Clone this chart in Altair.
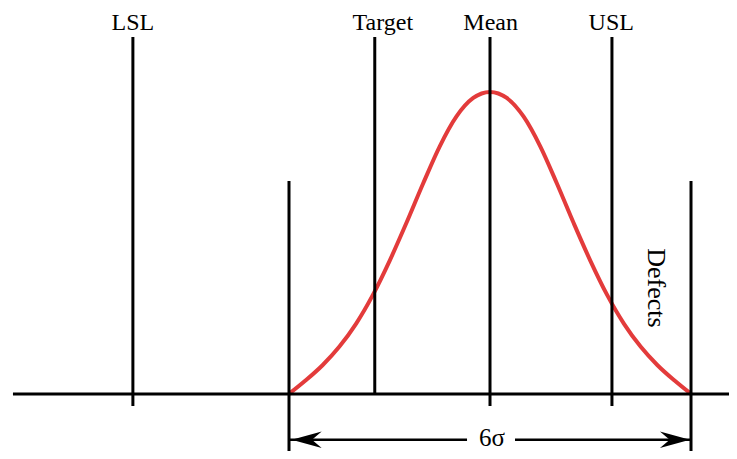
import altair as alt
import pandas as pd

# ---- data (x in sigma units from the mean, y relative to curve peak) ----
marker_names = ["LSL", "Target", "Mean", "USL", "-3σ", "+3σ"]
marker_x = [-5.33, -1.72, 0.0, 1.82, -3.0, 3.0]
marker_top = [1.182, 1.182, 1.182, 1.182, 0.705, 0.705]
marker_bottom = [-0.04, 0.0, -0.04, -0.04, -0.25, -0.25]

label_text = ["LSL", "Target", "Mean", "USL"]
label_x = [-5.33, -1.60, 0.01, 1.81]
label_y = [1.204, 1.204, 1.204, 1.204]

curve_x = [-3.0, -2.75, -2.5, -2.25, -2.0, -1.75, -1.5, -1.25, -1.0, -0.75, -0.5, -0.25,
           0.0, 0.25, 0.5, 0.75, 1.0, 1.25, 1.5, 1.75, 2.0, 2.25, 2.5, 2.75, 3.0]
curve_y = [0.0, 0.045, 0.095, 0.156, 0.232, 0.327, 0.44, 0.565, 0.696, 0.82, 0.919, 0.98,
           1.0, 0.98, 0.919, 0.82, 0.696, 0.565, 0.44, 0.327, 0.232, 0.156, 0.095, 0.045, 0.0]

baseline_x = [-7.12, 3.75]
baseline_y = [0.0]

arrow_y = [-0.152]
arrow_seg_start = [-3.0, 0.373]
arrow_seg_end = [-0.343, 3.0]
arrow_head_x = [-2.736, 2.76]
span_label = ["6σ"]
span_label_x = [0.03]
span_label_y = [-0.146]

defects_label = ["Defects"]
defects_x = [2.48]
defects_y = [0.351]

# ---- scales ----
XDOM = [-7.194, 3.567]
YDOM = [-0.189, 1.278]
xs = alt.Scale(domain=XDOM, nice=False, zero=False)
ys = alt.Scale(domain=YDOM, nice=False, zero=False)
FONT = "Liberation Serif"


def X(f):
    return alt.X(f"{f}:Q", scale=xs, axis=None)


def Y(f):
    return alt.Y(f"{f}:Q", scale=ys, axis=None)


markers = pd.DataFrame({"name": marker_names, "x": marker_x,
                        "top": marker_top, "bottom": marker_bottom})
labels = pd.DataFrame({"text": label_text, "x": label_x, "y": label_y})
curve = pd.DataFrame({"x": curve_x, "y": curve_y})
base = pd.DataFrame({"x": [baseline_x[0]], "x2": [baseline_x[1]], "y": baseline_y})
shaft = pd.DataFrame({"x": arrow_seg_start, "x2": arrow_seg_end,
                      "y": arrow_y * len(arrow_seg_start)})
heads = pd.DataFrame({"x": arrow_head_x, "y": arrow_y * 2, "dir": ["left", "right"]})
span = pd.DataFrame({"text": span_label, "x": span_label_x, "y": span_label_y})
defects = pd.DataFrame({"text": defects_label, "x": defects_x, "y": defects_y})

curve_layer = alt.Chart(curve).mark_line(
    color="#e33b3b", strokeWidth=4, interpolate="monotone"
).encode(x=X("x"), y=Y("y"))

marker_layer = alt.Chart(markers).mark_rule(color="black", strokeWidth=3).encode(
    x=X("x"), y=Y("top"), y2="bottom:Q"
)

base_layer = alt.Chart(base).mark_rule(color="black", strokeWidth=3).encode(
    x=X("x"), x2="x2:Q", y=Y("y")
)

shaft_layer = alt.Chart(shaft).mark_rule(color="black", strokeWidth=2.5).encode(
    x=X("x"), x2="x2:Q", y=Y("y")
)

left_head = alt.Chart(heads[heads["dir"] == "left"]).mark_point(
    shape="M -1 0 L 1 -0.55 L 0.35 0 L 1 0.55 Z", filled=True, size=900,
    color="black", opacity=1, strokeWidth=0
).encode(x=X("x"), y=Y("y"))

right_head = alt.Chart(heads[heads["dir"] == "right"]).mark_point(
    shape="M 1 0 L -1 -0.55 L -0.35 0 L -1 0.55 Z", filled=True, size=900,
    color="black", opacity=1, strokeWidth=0
).encode(x=X("x"), y=Y("y"))

label_layer = alt.Chart(labels).mark_text(
    font=FONT, fontSize=24, color="black", baseline="alphabetic", align="center"
).encode(x=X("x"), y=Y("y"), text="text:N")

span_layer = alt.Chart(span).mark_text(
    font=FONT, fontSize=25, color="black", baseline="middle", align="center"
).encode(x=X("x"), y=Y("y"), text="text:N")

defects_layer = alt.Chart(defects).mark_text(
    font=FONT, fontSize=26, color="black", baseline="middle", align="center", angle=90
).encode(x=X("x"), y=Y("y"), text="text:N")

chart = alt.layer(
    curve_layer, base_layer, marker_layer, shaft_layer, left_head, right_head,
    label_layer, span_layer, defects_layer
).properties(
    width=721, height=443,
    autosize=alt.AutoSizeParams(type="none"),
    padding=0,
    background="white",
).configure_view(stroke=None)

chart.save("out.html", embed_options={"renderer": "svg", "actions": False})
